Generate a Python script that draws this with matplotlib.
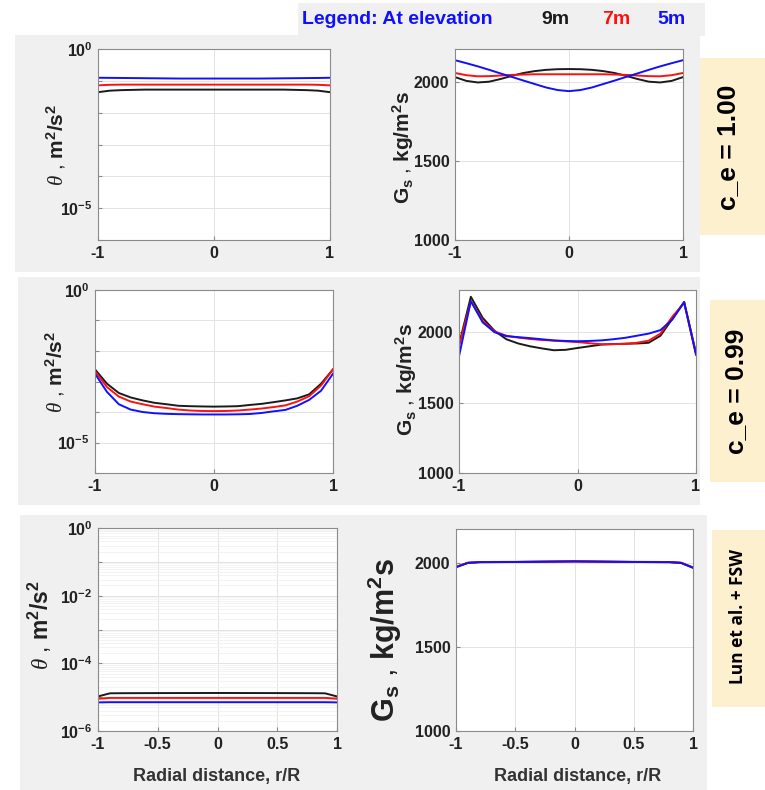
"""Granular temperature and solids flux profiles at three elevations."""

import matplotlib
matplotlib.use("Agg")
import matplotlib.pyplot as plt
from matplotlib.patches import Rectangle

# ---- data ----
elevations = ["9m", "7m", "5m"]
colors = ["#1a1a1a", "#ff1010", "#1010ff"]

r21 = [-1.0, -0.9, -0.8, -0.7, -0.6, -0.5, -0.4, -0.3, -0.2, -0.1, 0.0,
       0.1, 0.2, 0.3, 0.4, 0.5, 0.6, 0.7, 0.8, 0.9, 1.0]

# row 1: c_e = 1.00
theta_ce100_9m = [0.044, 0.049, 0.051, 0.052, 0.053, 0.053, 0.053, 0.053, 0.053, 0.053, 0.053,
                  0.053, 0.053, 0.053, 0.053, 0.053, 0.053, 0.052, 0.051, 0.049, 0.044]
theta_ce100_7m = [0.072, 0.075, 0.076, 0.076, 0.076, 0.076, 0.076, 0.076, 0.076, 0.076, 0.076,
                  0.076, 0.076, 0.076, 0.076, 0.076, 0.076, 0.076, 0.076, 0.075, 0.072]
theta_ce100_5m = [0.125, 0.124, 0.123, 0.122, 0.121, 0.120, 0.119, 0.118, 0.118, 0.118, 0.118,
                  0.118, 0.118, 0.118, 0.118, 0.119, 0.120, 0.121, 0.122, 0.123, 0.125]
gs_ce100_9m = [2032, 2008, 1998, 2003, 2020, 2040, 2058, 2070, 2078, 2082, 2083,
               2082, 2078, 2070, 2058, 2040, 2020, 2003, 1998, 2008, 2032]
gs_ce100_7m = [2058, 2044, 2037, 2038, 2042, 2046, 2048, 2050, 2050, 2050, 2050,
               2050, 2050, 2050, 2048, 2046, 2042, 2038, 2037, 2044, 2058]
gs_ce100_5m = [2139, 2120, 2100, 2078, 2055, 2033, 2010, 1988, 1966, 1950, 1943,
               1950, 1966, 1988, 2010, 2033, 2055, 2078, 2100, 2120, 2139]

# row 2: c_e = 0.99
theta_ce099_9m = [2.5e-3, 8.5e-4, 4.2e-4, 3.0e-4, 2.4e-4, 2.0e-4, 1.8e-4, 1.6e-4, 1.55e-4, 1.52e-4, 1.5e-4,
                  1.52e-4, 1.55e-4, 1.7e-4, 1.85e-4, 2.1e-4, 2.4e-4, 2.8e-4, 3.8e-4, 8.5e-4, 2.5e-3]
theta_ce099_7m = [2.2e-3, 6.6e-4, 3.2e-4, 2.2e-4, 1.8e-4, 1.5e-4, 1.35e-4, 1.2e-4, 1.12e-4, 1.08e-4, 1.07e-4,
                  1.08e-4, 1.12e-4, 1.2e-4, 1.3e-4, 1.45e-4, 1.65e-4, 2.2e-4, 3.3e-4, 7.4e-4, 2.5e-3]
theta_ce099_5m = [1.8e-3, 4.6e-4, 1.8e-4, 1.2e-4, 1.0e-4, 9.1e-5, 8.7e-5, 8.5e-5, 8.4e-5, 8.3e-5, 8.3e-5,
                  8.3e-5, 8.4e-5, 8.6e-5, 9.3e-5, 1.05e-4, 1.17e-4, 1.6e-4, 2.5e-4, 5.0e-4, 1.8e-3]
gs_ce099_9m = [1912, 2252, 2102, 2010, 1950, 1920, 1900, 1885, 1872, 1875, 1888,
               1900, 1912, 1916, 1918, 1920, 1925, 1975, 2095, 2214, 1852]
gs_ce099_7m = [1900, 2221, 2080, 2005, 1975, 1962, 1952, 1945, 1940, 1935, 1930,
               1922, 1915, 1915, 1918, 1925, 1940, 1990, 2110, 2209, 1845]
gs_ce099_5m = [1829, 2221, 2070, 2000, 1972, 1965, 1958, 1950, 1942, 1938, 1936,
               1938, 1942, 1950, 1960, 1975, 1990, 2015, 2090, 2214, 1840]

# row 3: Lun et al. + FSW
r_lun = [-1.0, -0.9, -0.8, -0.5, 0.0, 0.5, 0.8, 0.9, 1.0]
theta_lun_9m = [1.05e-5, 1.3e-5, 1.31e-5, 1.32e-5, 1.33e-5, 1.32e-5, 1.31e-5, 1.3e-5, 1.05e-5]
theta_lun_7m = [9.0e-6, 9.5e-6, 9.5e-6, 9.5e-6, 9.5e-6, 9.5e-6, 9.5e-6, 9.5e-6, 9.0e-6]
theta_lun_5m = [7.0e-6, 7.1e-6, 7.1e-6, 7.1e-6, 7.1e-6, 7.1e-6, 7.1e-6, 7.1e-6, 7.0e-6]
gs_lun_9m = [1974, 1999, 2003, 2004, 2008, 2004, 2003, 1999, 1970]
gs_lun_7m = [1975, 2000, 2004, 2005, 2008, 2005, 2004, 2000, 1972]
gs_lun_5m = [1973, 1998, 2003, 2004, 2007, 2004, 2003, 1998, 1970]

row_labels = ["c_e = 1.00", "c_e = 0.99", "Lun et al. + FSW"]

# ---- figure ----
W, H = 765, 790
plt.rcParams["font.family"] = ["Liberation Sans", "DejaVu Sans"]
plt.rcParams["axes.unicode_minus"] = False
plt.rcParams["mathtext.fontset"] = "custom"
plt.rcParams["mathtext.rm"] = "Liberation Sans"
plt.rcParams["mathtext.bf"] = "Liberation Sans:bold"
plt.rcParams["mathtext.it"] = "Liberation Serif:italic"

fig = plt.figure(figsize=(W / 100, H / 100), dpi=100)
fig.patch.set_facecolor("white")

PANEL = "#f0f0f0"
TAN = "#fdf0cf"


def box(x0, y0, x1, y1):
    """pixel box (top-left origin) -> figure fraction rect"""
    return [x0 / W, 1 - y1 / H, (x1 - x0) / W, (y1 - y0) / H]


def bg_rect(x0, y0, x1, y1, color):
    l, b, w, h = box(x0, y0, x1, y1)
    fig.patches.append(Rectangle((l, b), w, h, transform=fig.transFigure,
                                 facecolor=color, edgecolor="none", zorder=-5))


# grey panels, legend strip and tan label boxes
bg_rect(298, 3, 705, 36, PANEL)
bg_rect(15, 35, 700, 272, PANEL)
bg_rect(18, 277, 700, 505, PANEL)
bg_rect(20, 515, 707, 790, PANEL)
bg_rect(700, 58, 765, 235, TAN)
bg_rect(710, 300, 765, 482, TAN)
bg_rect(712, 530, 765, 707, TAN)

# legend strip
fig.text(302 / W, 1 - 19 / H, "Legend: At elevation", color="#1010ff",
         fontsize=14, fontweight="bold", va="center", ha="left")
for name, c, xp in zip(elevations, colors, [555, 616, 672]):
    fig.text(xp / W, 1 - 19 / H, name, color=c, fontsize=14,
             fontweight="bold", va="center", ha="center")

theta_lbl = r"$\theta$ , $\mathbf{m^2/s^2}$"
gs_lbl = r"$\mathbf{G_s}$ , $\mathbf{kg/m^2s}$"


def style_axes(ax, fs=11.5):
    ax.set_facecolor("white")
    for s in ax.spines.values():
        s.set_color("#8a8a8a")
        s.set_linewidth(0.8)
    ax.tick_params(direction="in", length=3, color="#8a8a8a", labelsize=fs,
                   pad=4)
    for lbl in ax.get_xticklabels() + ax.get_yticklabels():
        lbl.set_fontweight("bold")
        lbl.set_color("#222222")
    ax.grid(True, color="#e3e3e3", linewidth=0.7)
    ax.set_axisbelow(True)


def theta_axes(rect, r, series, ticks_every, minor=False):
    ax = fig.add_axes(box(*rect))
    for y, c in zip(series, colors):
        ax.semilogy(r, y, color=c, linewidth=1.4)
    ax.set_xlim(-1, 1)
    ax.set_ylim(1e-6, 1)
    decades = [1e-6, 1e-5, 1e-4, 1e-3, 1e-2, 1e-1, 1e0]
    ax.set_yticks(decades)
    labels = []
    for d in range(-6, 1):
        labels.append(r"$\mathbf{10^{%d}}$" % d if d in ticks_every else "")
    ax.set_yticklabels(labels)
    ax.minorticks_off()
    if minor:
        ax.set_yticks([m * 10.0 ** d for d in range(-6, 0) for m in range(2, 10)], minor=True)
        ax.tick_params(which="minor", length=0)
        ax.grid(True, which="minor", axis="y", color="#f1f1f1", linewidth=0.6)
    return ax


def gs_axes(rect, r, series, ymax):
    ax = fig.add_axes(box(*rect))
    for y, c in zip(series, colors):
        ax.plot(r, y, color=c, linewidth=1.4)
    ax.set_xlim(-1, 1)
    ax.set_ylim(1000, ymax)
    ax.set_yticks([1000, 1500, 2000])
    return ax


# row 1
a = theta_axes((98, 49, 330, 240), r21, [theta_ce100_9m, theta_ce100_7m, theta_ce100_5m], [-5, 0])
a.set_xticks([-1, 0, 1])
style_axes(a)
b = gs_axes((455, 49, 683, 240), r21, [gs_ce100_9m, gs_ce100_7m, gs_ce100_5m], 2210)
b.set_xticks([-1, 0, 1])
style_axes(b)

# row 2
a = theta_axes((95, 290, 333, 473), r21, [theta_ce099_9m, theta_ce099_7m, theta_ce099_5m], [-5, 0])
a.set_xticks([-1, 0, 1])
style_axes(a)
b = gs_axes((459, 290, 696, 473), r21, [gs_ce099_9m, gs_ce099_7m, gs_ce099_5m], 2300)
b.set_xticks([-1, 0, 1])
style_axes(b)

# row 3
a = theta_axes((98, 528, 337, 731), r_lun, [theta_lun_9m, theta_lun_7m, theta_lun_5m], [-6, -4, -2, 0], minor=True)
a.set_xticks([-1, -0.5, 0, 0.5, 1])
a.set_xticklabels(["-1", "-0.5", "0", "0.5", "1"])
style_axes(a)
b = gs_axes((456, 529, 693, 731), r_lun, [gs_lun_9m, gs_lun_7m, gs_lun_5m], 2200)
b.set_xticks([-1, -0.5, 0, 0.5, 1])
b.set_xticklabels(["-1", "-0.5", "0", "0.5", "1"])
style_axes(b)

# y labels
for txt, xp, yp, fs in [(theta_lbl, 56, 145, 15), (gs_lbl, 403, 148, 15),
                        (theta_lbl, 55, 372, 15), (gs_lbl, 406, 380, 15),
                        (theta_lbl, 40, 625, 16.5), (gs_lbl, 385, 640, 22)]:
    fig.text(xp / W, 1 - yp / H, txt, rotation=90, fontsize=fs,
             ha="center", va="center", color="#222222")

# x labels bottom row
for xp in [217, 578]:
    fig.text(xp / W, 1 - 777 / H, "Radial distance, r/R", fontsize=13,
             fontweight="bold", ha="center", va="center", color="#333333")

# row tags in tan boxes
fig.text(728 / W, 1 - 147 / H, row_labels[0], rotation=90, fontsize=19,
         fontweight="bold", family="Liberation Sans", ha="center", va="center")
fig.text(736 / W, 1 - 391 / H, row_labels[1], rotation=90, fontsize=19,
         fontweight="bold", family="Liberation Sans", ha="center", va="center")
fig.text(738 / W, 1 - 617 / H, row_labels[2], rotation=90, fontsize=12.5,
         fontweight="bold", family="Open Sans", ha="center", va="center")

fig.savefig("out.png", dpi=100)
plt.close(fig)
